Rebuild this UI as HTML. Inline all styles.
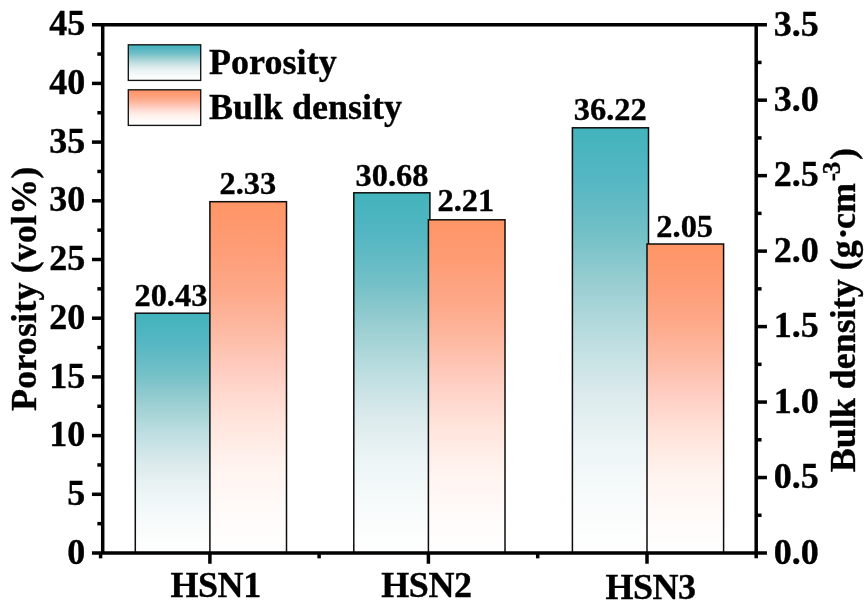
<!DOCTYPE html>
<html lang="en">
<head>
<meta charset="utf-8">
<title>Porosity and bulk density</title>
<style>
html,body{margin:0;padding:0;background:#fff;}
body{width:865px;height:609px;overflow:hidden;}
svg{display:block;}
text{font-family:"Liberation Serif",serif;font-weight:bold;fill:#000;stroke:#000;stroke-width:0.35px;}
.t{font-size:36px;}
.v{font-size:32.4px;}
</style>
</head>
<body>
<svg width="865" height="609" viewBox="0 0 865 609">
<defs>
<linearGradient id="gT" x1="0" y1="0" x2="0" y2="1">
<stop offset="0" stop-color="#42b3bc"/>
<stop offset="0.125" stop-color="#55b7c3"/>
<stop offset="0.25" stop-color="#73c0c7"/>
<stop offset="0.375" stop-color="#9bcfd2"/>
<stop offset="0.5" stop-color="#bddee1"/>
<stop offset="0.625" stop-color="#dbeaec"/>
<stop offset="0.75" stop-color="#edf5f6"/>
<stop offset="0.875" stop-color="#f8fbfb"/>
<stop offset="1" stop-color="#ffffff"/>
</linearGradient>
<linearGradient id="gO" x1="0" y1="0" x2="0" y2="1">
<stop offset="0" stop-color="#fe9566"/>
<stop offset="0.125" stop-color="#fe9c75"/>
<stop offset="0.25" stop-color="#fda888"/>
<stop offset="0.375" stop-color="#fdbba5"/>
<stop offset="0.5" stop-color="#ffd0c5"/>
<stop offset="0.625" stop-color="#ffe5dc"/>
<stop offset="0.75" stop-color="#fff3ef"/>
<stop offset="0.875" stop-color="#fffaf8"/>
<stop offset="1" stop-color="#ffffff"/>
</linearGradient>
</defs>
<rect x="0" y="0" width="865" height="609" fill="#ffffff"/>

<g stroke="#0d0d0d" stroke-width="1.5">
<rect x="135.3" y="313.2" width="76.1" height="239.8" fill="url(#gT)"/>
<rect x="209.9" y="201.7" width="76.6" height="351.3" fill="url(#gO)"/>
<rect x="353.8" y="192.8" width="76.1" height="360.2" fill="url(#gT)"/>
<rect x="428.4" y="219.8" width="76.6" height="333.2" fill="url(#gO)"/>
<rect x="572.4" y="127.8" width="76.1" height="425.2" fill="url(#gT)"/>
<rect x="647.0" y="244.0" width="76.6" height="309.0" fill="url(#gO)"/>
</g>
<g stroke="#000" stroke-width="3.5" fill="none" stroke-linecap="butt">
<path d="M91.95 24.7 H766.95"/>
<path d="M91.95 553.0 H766.95"/>
<path d="M102.7 24.7 V553.0"/>
<path d="M100.6 553.0 V558.35"/>
<path d="M756.2 24.7 V558.35"/>
<path d="M91.95 494.30 H102.7"/>
<path d="M91.95 435.60 H102.7"/>
<path d="M91.95 376.90 H102.7"/>
<path d="M91.95 318.20 H102.7"/>
<path d="M91.95 259.50 H102.7"/>
<path d="M91.95 200.80 H102.7"/>
<path d="M91.95 142.10 H102.7"/>
<path d="M91.95 83.40 H102.7"/>
<path d="M97.35000000000001 523.65 H102.7"/>
<path d="M97.35000000000001 464.95 H102.7"/>
<path d="M97.35000000000001 406.25 H102.7"/>
<path d="M97.35000000000001 347.55 H102.7"/>
<path d="M97.35000000000001 288.85 H102.7"/>
<path d="M97.35000000000001 230.15 H102.7"/>
<path d="M97.35000000000001 171.45 H102.7"/>
<path d="M97.35000000000001 112.75 H102.7"/>
<path d="M97.35000000000001 54.05 H102.7"/>
<path d="M756.2 477.53 H766.95"/>
<path d="M756.2 402.06 H766.95"/>
<path d="M756.2 326.59 H766.95"/>
<path d="M756.2 251.11 H766.95"/>
<path d="M756.2 175.64 H766.95"/>
<path d="M756.2 100.17 H766.95"/>
<path d="M756.2 515.26 H761.5500000000001"/>
<path d="M756.2 439.79 H761.5500000000001"/>
<path d="M756.2 364.32 H761.5500000000001"/>
<path d="M756.2 288.85 H761.5500000000001"/>
<path d="M756.2 213.38 H761.5500000000001"/>
<path d="M756.2 137.91 H761.5500000000001"/>
<path d="M756.2 62.44 H761.5500000000001"/>
<path d="M209.9 553.0 V563.75"/>
<path d="M428.4 553.0 V563.75"/>
<path d="M647.0 553.0 V563.75"/>
<path d="M319.1 553.0 V558.35"/>
<path d="M537.7 553.0 V558.35"/>
</g>
<g class="t" text-anchor="end">
<text x="85.2" y="563.6">0</text>
<text x="85.2" y="504.9">5</text>
<text x="85.2" y="446.2">10</text>
<text x="85.2" y="387.5">15</text>
<text x="85.2" y="328.8">20</text>
<text x="85.2" y="270.1">25</text>
<text x="85.2" y="211.4">30</text>
<text x="85.2" y="152.7">35</text>
<text x="85.2" y="94.0">40</text>
<text x="85.2" y="35.3">45</text>
</g>
<g class="t" text-anchor="start">
<text x="773.8" y="563.8">0.0</text>
<text x="773.8" y="488.3">0.5</text>
<text x="773.8" y="412.9">1.0</text>
<text x="773.8" y="337.4">1.5</text>
<text x="773.8" y="261.9">2.0</text>
<text x="773.8" y="186.4">2.5</text>
<text x="773.8" y="111.0">3.0</text>
<text x="773.8" y="35.5">3.5</text>
</g>
<g class="t" text-anchor="middle" letter-spacing="-0.45">
<text x="215.6" y="596.5">HSN1</text>
<text x="426.4" y="596.5">HSN2</text>
<text x="650.5" y="598.9">HSN3</text>
</g>
<g class="v" text-anchor="middle">
<text x="170.9" y="306.3">20.43</text>
<text x="247.9" y="194.3">2.33</text>
<text x="392.0" y="186.0">30.68</text>
<text x="465.9" y="210.5">2.21</text>
<text x="610.2" y="119.6">36.22</text>
<text x="684.7" y="236.5">2.05</text>
</g>
<g stroke="#101414" stroke-width="1.35">
<rect x="128.3" y="44.8" width="72.4" height="35.6" fill="url(#gT)"/>
<rect x="128.3" y="89.8" width="72.4" height="35.6" fill="url(#gO)"/>
</g>
<g class="t">
<text x="208.9" y="73.5" letter-spacing="0.08">Porosity</text>
<text x="208.9" y="118.5">Bulk density</text>
</g>
<text class="t" text-anchor="middle" letter-spacing="0.14" transform="translate(35.5 288.7) rotate(-90)">Porosity (vol%)</text>
<text class="t" text-anchor="start" transform="translate(855 472.3) rotate(-90)">Bulk density (g<tspan dx="0.7">·</tspan><tspan dx="-1.5">cm</tspan><tspan dx="1.9" dy="-14.8" font-size="25" letter-spacing="-1.4">-3</tspan><tspan dx="3.0" dy="14.8">)</tspan></text>
</svg>
</body>
</html>
